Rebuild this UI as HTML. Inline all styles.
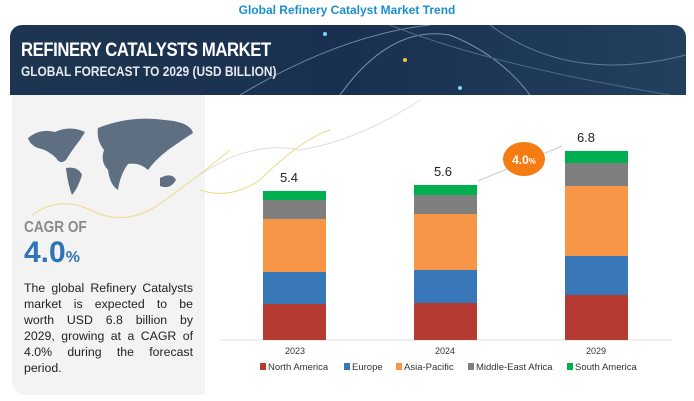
<!DOCTYPE html>
<html><head><style>
body{margin:0;width:694px;height:401px;background:#fff;font-family:"Liberation Sans",sans-serif;position:relative;overflow:hidden}
.a{position:absolute}
.j{text-align:justify;text-align-last:justify;white-space:nowrap;display:block}
</style></head><body>
<div class="a" style="left:0;top:3px;width:694px;text-align:center;color:#1a8fd0;font-size:12px;font-weight:bold">Global Refinery Catalyst Market Trend</div>
<div class="a" style="left:10px;top:25px;width:676px;height:70px;border-radius:12px 12px 0 0;background:linear-gradient(90deg,#1d3550,#1a3050 50%,#22405e);overflow:hidden">
<svg width="676" height="70" style="position:absolute;left:0;top:0"><path d="M230 70 Q330 10 420 0" stroke="#6c86a0" fill="none" stroke-width="1"/><path d="M330 70 Q380 0 440 10 Q490 30 520 70" stroke="#7a93ab" fill="none"/><path d="M380 0 Q480 40 660 70" stroke="#4c6a88" fill="none"/><path d="M480 0 Q560 60 676 30" stroke="#5d7b98" fill="none"/><circle cx="315" cy="9" r="2" fill="#7fd4ff"/><circle cx="395" cy="35" r="2" fill="#f5c842"/><circle cx="450" cy="63" r="2" fill="#7fd4ff"/></svg>
<div class="a" style="left:11px;top:15px;color:#fff;font-size:19px;font-weight:bold;transform:scaleX(.88);transform-origin:left;white-space:nowrap;letter-spacing:-0.5px">REFINERY CATALYSTS MARKET</div>
<div class="a" style="left:11px;top:38px;color:#e6e9ee;font-size:14px;font-weight:bold;transform:scaleX(.85);transform-origin:left;white-space:nowrap">GLOBAL FORECAST TO 2029 (USD BILLION)</div>
</div>
<div class="a" style="left:12px;top:95px;width:193px;height:300px;background:#f3f3f3;border-radius:0 0 0 14px"></div>
<svg class="a" style="left:0;top:0" width="694" height="401">
<path d="M28 138 Q40 128 55 132 Q70 125 85 132 L80 140 Q72 150 66 160 Q60 165 56 158 Q48 150 38 148 Q30 145 28 138Z" fill="#5f6f82"/>
<path d="M66 168 Q78 166 82 175 Q78 188 72 195 Q68 185 66 168Z" fill="#5f6f82"/>
<path d="M98 128 Q130 115 165 120 Q190 122 193 133 Q182 140 168 150 Q155 160 148 170 Q140 162 128 164 Q120 175 118 190 Q110 185 108 170 Q100 162 104 150 Q96 140 98 128Z" fill="#5f6f82"/>
<path d="M160 178 Q172 172 176 180 Q170 190 160 186Z" fill="#5f6f82"/>
<path d="M32 215 Q60 195 90 210 Q120 225 150 210 Q175 195 230 150" stroke="#f0d88a" fill="none" stroke-width="1"/>
<path d="M200 175 Q250 140 300 150 Q360 140 420 100" stroke="#ddd" fill="none"/>
<path d="M200 190 Q230 200 260 180 Q300 140 330 130" stroke="#f0d88a" fill="none"/>
<line x1="220" y1="340" x2="672" y2="340" stroke="#ddd"/>
<g>
<rect x="263" y="304" width="63" height="36" fill="#b53a31"/><rect x="263" y="272" width="63" height="32" fill="#3878b8"/><rect x="263" y="219" width="63" height="53" fill="#f79646"/><rect x="263" y="200" width="63" height="19" fill="#7f7f7f"/><rect x="263" y="191" width="63" height="9" fill="#00b050"/>
<rect x="414" y="303" width="63" height="37" fill="#b53a31"/><rect x="414" y="270" width="63" height="33" fill="#3878b8"/><rect x="414" y="214" width="63" height="56" fill="#f79646"/><rect x="414" y="195" width="63" height="19" fill="#7f7f7f"/><rect x="414" y="185" width="63" height="10" fill="#00b050"/>
<rect x="565" y="295" width="63" height="45" fill="#b53a31"/><rect x="565" y="256" width="63" height="39" fill="#3878b8"/><rect x="565" y="186" width="63" height="70" fill="#f79646"/><rect x="565" y="163" width="63" height="23" fill="#7f7f7f"/><rect x="565" y="151" width="63" height="12" fill="#00b050"/>
</g>
<line x1="478" y1="181" x2="562" y2="146" stroke="#ccc"/>
<ellipse cx="524" cy="159" rx="21" ry="17" fill="#f47c12"/>
<text x="524" y="164" text-anchor="middle" fill="#fff" font-size="12" font-weight="bold">4.0<tspan font-size="8">%</tspan></text>
<g font-size="13" fill="#222" text-anchor="middle"><text x="289" y="182">5.4</text><text x="443" y="176">5.6</text><text x="586" y="142">6.8</text></g>
<g font-size="9" fill="#333" text-anchor="middle"><text x="295" y="354">2023</text><text x="445" y="354">2024</text><text x="596" y="354">2029</text></g>
<g font-size="9.5" fill="#333">
<rect x="260" y="363" width="6" height="7" fill="#b53a31"/><text x="268" y="370">North America</text>
<rect x="344" y="363" width="6" height="7" fill="#3878b8"/><text x="352" y="370">Europe</text>
<rect x="396" y="363" width="6" height="7" fill="#f79646"/><text x="404" y="370">Asia-Pacific</text>
<rect x="468" y="363" width="6" height="7" fill="#7f7f7f"/><text x="476" y="370">Middle-East Africa</text>
<rect x="567" y="363" width="6" height="7" fill="#00b050"/><text x="575" y="370">South America</text>
</g>
</svg>
<div class="a" style="left:24px;top:219px;color:#8a8a8a;font-size:16px;font-weight:bold;transform:scaleX(.85);transform-origin:left">CAGR OF</div>
<div class="a" style="left:24px;top:236px;color:#2e75b6;font-size:30px;font-weight:bold">4.0<span style="font-size:16px">%</span></div>
<div class="a" style="left:24px;top:280px;width:169px;font-size:12.3px;line-height:16px;color:#222">
<span class="j">The global Refinery Catalysts</span>
<span class="j">market is expected to be</span>
<span class="j">worth USD 6.8 billion by</span>
<span class="j">2029, growing at a CAGR of</span>
<span class="j">4.0% during the forecast</span>
<span style="display:block">period.</span>
</div>
</body></html>
